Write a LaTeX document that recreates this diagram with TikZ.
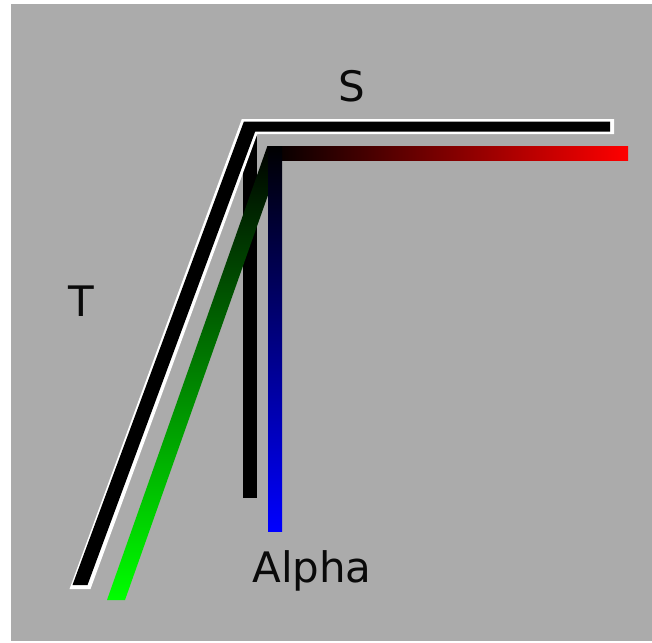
\documentclass[tikz,border=0pt]{standalone}
\usepackage{fontspec}
\setmainfont{DejaVu Sans}
\definecolor{axbg}{RGB}{171,171,171}
\definecolor{axtext}{RGB}{10,10,10}
\tikzset{
  axlabel/.style={font=\fontsize{21}{25}\selectfont, text=axtext, anchor=base, inner sep=0pt},
}

\begin{document}
\begin{tikzpicture}[x=0.5pt, y=-0.5pt]

  % ===== canvas =====
  \fill[white] (0,0) rectangle (652,642);
  \fill[axbg] (11,4) rectangle (652,641);
  \useasboundingbox (0,0) rectangle (652,642);

  % black stem under everything
  \fill[black] (243,128) rectangle (257,498);

  % ===== coloured axes =====
  \shade[top color=black, bottom color=green]
    (107,600) -- (267.4,146) -- (282,146) -- (282,155.5) -- (125,600) -- cycle;
  \shade[left color=black, right color=red] (268,146) rectangle (628,160);
  \shade[top color=black, bottom color=blue] (268,146) rectangle (282,531);

  % ===== outlined black axes =====
  \fill[white]
    (69.5,589) -- (241.8,119) -- (614,119) -- (614,134) -- (257.3,134) -- (90.5,589) -- cycle;
  \fill[black]
    (72.5,585) -- (243.9,121.5) -- (610,121.5) -- (610,131.5) -- (255.2,131.5) -- (87.5,585) -- cycle;

  % labels
  \node[axlabel] (lS) at (352,102) {S};
  \node[axlabel] (lT) at (81,316) {T};
  \node[axlabel] (lA) at (312,582) {Alpha};

\end{tikzpicture}
\end{document}
